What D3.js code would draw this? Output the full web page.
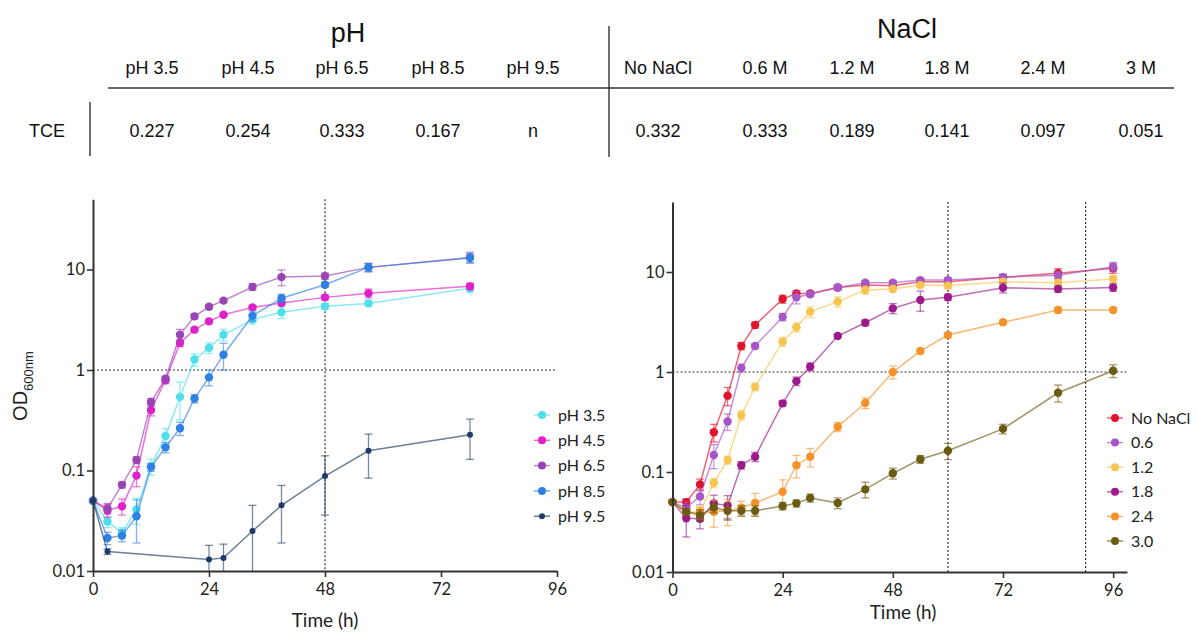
<!DOCTYPE html>
<html><head><meta charset="utf-8">
<script src="https://cdn.jsdelivr.net/npm/d3@7"></script>
<style>
body{margin:0;background:#fff;}
svg{display:block;}
</style></head>
<body>
<svg id="c" width="1197" height="635"></svg>
<script>
// ---------- header table ----------
const phLabels = ["pH 3.5","pH 4.5","pH 6.5","pH 8.5","pH 9.5"];
const phTCE = ["0.227","0.254","0.333","0.167","n"];
const naclLabels = ["No NaCl","0.6 M","1.2 M","1.8 M","2.4 M","3 M"];
const naclTCE = ["0.332","0.333","0.189","0.141","0.097","0.051"];

// ---------- pH panel data ----------
const phTimes = [0,3,6,9,12,15,18,21,24,27,33,39,48,57,78];
const ph35 = [0.05,0.031,0.024,0.041,0.11,0.22,0.54,1.27,1.66,2.24,3.17,3.75,4.3,4.6,6.5];
const ph35sd = [0,0.004,0.003,0.012,0.02,0.04,0.22,0.18,0.2,0.3,0.3,0.5,0.3,0.3,0.6];
const ph45 = [0.05,0.040,0.044,0.089,0.40,0.79,1.86,2.52,3.05,3.55,4.2,4.64,5.28,5.8,6.8];
const ph45sd = [0,0.006,0.008,0.02,0.05,0.06,0.15,0.1,0.1,0.1,0.2,0.2,0.3,0.6,0.5];
const ph65 = [0.05,0.042,0.072,0.127,0.48,0.82,2.24,3.42,4.26,4.9,6.7,8.4,8.6,10.5,13.2];
const ph65sd = [0,0.005,0.005,0.01,0.04,0.05,0.3,0.2,0.2,0.2,0.5,1.5,0.6,1.0,1.6];
const ph85 = [0.05,0.0213,0.0225,0.035,0.108,0.17,0.263,0.52,0.845,1.42,3.47,5.17,7.06,10.5,13.0];
const ph85sd = [0,0.003,0.003,0.016,0.01,0.02,0.04,0.05,0.15,0.42,0.4,0.5,0.4,1.0,1.3];
const ph95Times = [0,3,24,27,33,39,48,57,78];
const ph95 = [0.05,0.0156,0.013,0.0135,0.025,0.045,0.088,0.157,0.227];
const ph95sd = [0,0.001,0.005,0.005,0.02,0.026,0.052,0.073,0.098];
const phNames = ["pH 3.5","pH 4.5","pH 6.5","pH 8.5","pH 9.5"];
const phColors = ["#4fdfea","#e021c9","#9a43b4","#2f80e2","#1e3a66"];

// ---------- NaCl panel data ----------
const naTimes = [0,3,6,9,12,15,18,24,27,30,36,42,48,54,60,72,84,96];
const na0 = [0.05,0.05,0.075,0.25,0.58,1.82,2.95,5.37,6.1,6.1,7.0,7.4,7.3,8.0,8.0,8.85,9.7,10.9];
const na0sd = [0,0.004,0.01,0.05,0.12,0.15,0.2,0.5,0.4,0.3,0.4,0.4,0.5,0.5,0.5,0.6,1.1,1.2];
const na06 = [0.05,0.044,0.057,0.148,0.32,1.1,1.82,3.55,5.6,6.0,7.0,7.8,7.8,8.3,8.3,8.85,9.3,11.3];
const na06sd = [0,0.006,0.01,0.04,0.06,0.1,0.1,0.3,0.8,0.3,0.4,0.4,0.4,0.4,0.5,0.5,0.8,1.2];
const na12 = [0.05,0.0386,0.040,0.078,0.132,0.37,0.71,2.01,2.8,4.0,5.05,6.6,6.76,7.4,7.3,8.0,7.8,8.5];
const na12sd = [0,0.003,0.005,0.008,0.012,0.04,0.06,0.2,0.3,0.5,0.6,0.6,0.5,0.4,0.5,0.5,0.5,0.7];
const na18 = [0.05,0.0344,0.034,0.0486,0.046,0.117,0.142,0.486,0.81,1.13,2.29,3.11,4.33,5.25,5.6,6.97,6.76,7.0];
const na18sd = [0,0.012,0.007,0.01,0.012,0.01,0.015,0.03,0.08,0.1,0.1,0.2,0.5,1.2,0.4,0.8,0.5,0.6];
const na24 = [0.05,0.040,0.039,0.040,0.041,0.044,0.049,0.0635,0.117,0.142,0.284,0.49,1.0,1.62,2.34,3.14,4.17,4.17];
const na24sd = [0,0.003,0.005,0.012,0.012,0.007,0.012,0.02,0.03,0.03,0.03,0.06,0.15,0.1,0.15,0.15,0.3,0.2];
const na30 = [0.05,0.040,0.037,0.044,0.041,0.041,0.041,0.0457,0.0486,0.055,0.049,0.067,0.097,0.134,0.163,0.27,0.62,1.03];
const na30sd = [0,0.003,0.005,0.005,0.008,0.005,0.005,0.004,0.004,0.005,0.006,0.012,0.012,0.012,0.03,0.03,0.12,0.15];
const naNames = ["No NaCl","0.6","1.2","1.8","2.4","3.0"];
const naColors = ["#e0122c","#a855c8","#f7c451","#9c1a8c","#f5922a","#6b5a14"];

const yTicks = [0.01,0.1,1,10];
const xTicks = [0,24,48,72,96];

const svg = d3.select("#c");
const HF = "'Liberation Sans', Arial, sans-serif";
const AF = "Lato, 'Open Sans', sans-serif";

// ---------- header ----------
const hdr = svg.append("g").attr("font-family", HF).attr("fill", "#111");
hdr.append("text").attr("x",348).attr("y",42).attr("text-anchor","middle").attr("font-size",27).text("pH");
hdr.append("text").attr("x",907).attr("y",38).attr("text-anchor","middle").attr("font-size",27).text("NaCl");
const phX = [152,248,342,438,533];
const naX = [658,765,852,947,1043,1141];
phLabels.forEach((t,i)=>hdr.append("text").attr("x",phX[i]).attr("y",74).attr("text-anchor","middle").attr("font-size",18).text(t));
naclLabels.forEach((t,i)=>hdr.append("text").attr("x",naX[i]).attr("y",74).attr("text-anchor","middle").attr("font-size",18).text(t));
phTCE.forEach((t,i)=>hdr.append("text").attr("x",phX[i]).attr("y",137).attr("text-anchor","middle").attr("font-size",18).text(t));
naclTCE.forEach((t,i)=>hdr.append("text").attr("x",naX[i]).attr("y",137).attr("text-anchor","middle").attr("font-size",18).text(t));
hdr.append("text").attr("x",47).attr("y",137).attr("text-anchor","middle").attr("font-size",18).text("TCE");
svg.append("line").attr("x1",108).attr("x2",1174).attr("y1",88).attr("y2",88).attr("stroke","#333").attr("stroke-width",1.5);
svg.append("line").attr("x1",609).attr("x2",609).attr("y1",26).attr("y2",157).attr("stroke","#222").attr("stroke-width",1.3);
svg.append("line").attr("x1",90).attr("x2",90).attr("y1",102).attr("y2",156).attr("stroke","#222").attr("stroke-width",1.3);

// ---------- panel builder ----------
function panel(cfg){
  const g = svg.append("g");
  const x = d3.scaleLinear().domain(cfg.xDomain).range(cfg.xRange);
  const y = d3.scaleLog().domain([0.01,50]).range(cfg.yRange);
  const ymin = 0.01;
  g.append("line").attr("x1",x(0)).attr("x2",x(cfg.xDomain[1])).attr("y1",y(1)).attr("y2",y(1))
    .attr("stroke","#333").attr("stroke-width",1.2).attr("stroke-dasharray","2,2");
  cfg.vlines.forEach(v=>{
    g.append("line").attr("x1",x(v)).attr("x2",x(v)).attr("y1",y(50)).attr("y2",y(0.01))
      .attr("stroke","#333").attr("stroke-width",1.2).attr("stroke-dasharray","2,2");
  });
  cfg.series.forEach(s=>{
    const pts = s.t.map((t,i)=>({t, v:s.v[i], sd:s.sd[i]}));
    const col = s.color;
    g.append("path").datum(pts)
      .attr("d", d3.line().x(d=>x(d.t)).y(d=>y(d.v)))
      .attr("fill","none").attr("stroke",col).attr("stroke-opacity",0.65).attr("stroke-width",1.5);
    const eb = g.append("g").attr("stroke",col).attr("stroke-opacity",0.6).attr("stroke-width",1.3);
    pts.filter(d=>d.sd>0).forEach(d=>{
      const hi = d.v + d.sd, lo = Math.max(d.v - d.sd, ymin);
      const cx = x(d.t);
      eb.append("line").attr("x1",cx).attr("x2",cx).attr("y1",y(hi)).attr("y2",y(lo));
      eb.append("line").attr("x1",cx-4).attr("x2",cx+4).attr("y1",y(hi)).attr("y2",y(hi));
      if (d.v - d.sd > ymin) eb.append("line").attr("x1",cx-4).attr("x2",cx+4).attr("y1",y(lo)).attr("y2",y(lo));
    });
    g.append("g").selectAll("circle").data(pts).join("circle")
      .attr("cx",d=>x(d.t)).attr("cy",d=>y(d.v)).attr("r",s.r||4.2).attr("fill",col);
  });
  const ya = g.append("g").attr("transform",`translate(${cfg.xRange[0]},0)`)
    .call(d3.axisLeft(y).tickValues(yTicks).tickFormat(d=>d>=1?d3.format("d")(d):String(d)).tickSize(6).tickPadding(2).tickSizeOuter(0));
  const xa = g.append("g").attr("transform",`translate(0,${cfg.yRange[0]})`)
    .call(d3.axisBottom(x).tickValues(xTicks).tickFormat(d3.format("d")).tickSize(6).tickPadding(6).tickSizeOuter(0));
  [ya,xa].forEach(a=>{
    a.selectAll("path").attr("stroke","#333").attr("stroke-width",2);
    a.selectAll("line").attr("stroke","#333").attr("stroke-width",1.6);
    a.selectAll("text").attr("font-family",AF).attr("font-size",16.5).attr("fill","#222");
  });
  g.append("text").attr("x",cfg.xLabel[0]).attr("y",cfg.xLabel[1]).attr("text-anchor","middle")
    .attr("font-family",AF).attr("font-size",19).attr("fill","#222").text("Time (h)");
  const lg = g.append("g");
  cfg.series.forEach((s,i)=>{
    const ly = cfg.legend.y0 + i*cfg.legend.dy;
    const lx = cfg.legend.x;
    lg.append("line").attr("x1",lx-8).attr("x2",lx+8).attr("y1",ly).attr("y2",ly).attr("stroke",s.color).attr("stroke-width",1.4).attr("stroke-opacity",0.7);
    lg.append("circle").attr("cx",lx).attr("cy",ly).attr("r",s.r?3:4).attr("fill",s.color);
    lg.append("text").attr("x",lx+16).attr("y",ly).attr("dy","0.35em").attr("font-family",AF).attr("font-size",16).attr("fill","#222").text(s.name);
  });
}

panel({
  xDomain:[0,96], xRange:[93,557], yRange:[571,571-100.5*Math.log10(5000)],
  vlines:[48], xLabel:[325,627],
  legend:{x:542,y0:415,dy:25.3},
  series:[
    {name:phNames[0],color:phColors[0],t:phTimes,v:ph35,sd:ph35sd},
    {name:phNames[1],color:phColors[1],t:phTimes,v:ph45,sd:ph45sd},
    {name:phNames[2],color:phColors[2],t:phTimes,v:ph65,sd:ph65sd},
    {name:phNames[3],color:phColors[3],t:phTimes,v:ph85,sd:ph85sd},
    {name:phNames[4],color:phColors[4],t:ph95Times,v:ph95,sd:ph95sd,r:3}
  ]
});

panel({
  xDomain:[0,99], xRange:[672.5,672.5+99*4.59], yRange:[572,572-100*Math.log10(5000)],
  vlines:[60,90], xLabel:[903,619],
  legend:{x:1115,y0:418,dy:24.6},
  series:[
    {name:naNames[0],color:naColors[0],t:naTimes,v:na0,sd:na0sd},
    {name:naNames[1],color:naColors[1],t:naTimes,v:na06,sd:na06sd},
    {name:naNames[2],color:naColors[2],t:naTimes,v:na12,sd:na12sd},
    {name:naNames[3],color:naColors[3],t:naTimes,v:na18,sd:na18sd},
    {name:naNames[4],color:naColors[4],t:naTimes,v:na24,sd:na24sd},
    {name:naNames[5],color:naColors[5],t:naTimes,v:na30,sd:na30sd}
  ]
});

const yl = svg.append("text").attr("transform","translate(27,386) rotate(-90)").attr("text-anchor","middle")
  .attr("font-family",HF).attr("font-size",20).attr("fill","#222");
yl.append("tspan").text("OD");
yl.append("tspan").attr("font-size",13).attr("dy",6).text("600nm");
</script>
</body></html>
